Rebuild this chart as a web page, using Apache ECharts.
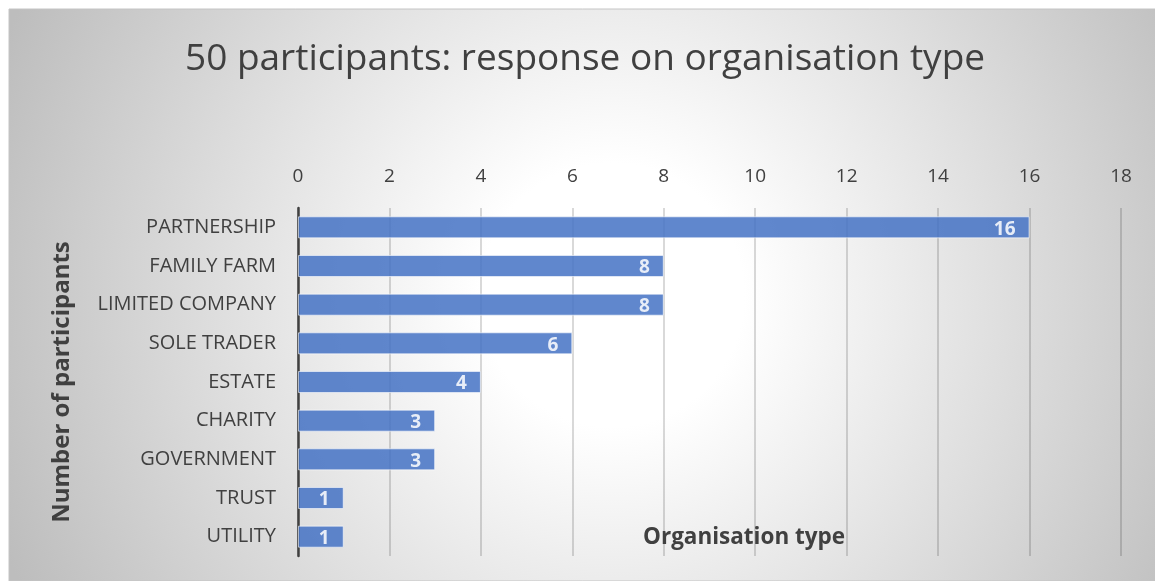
<!DOCTYPE html>
<html>
<head>
<meta charset="utf-8">
<script src="https://cdn.jsdelivr.net/npm/echarts@6/dist/echarts.min.js"></script>
<style>
  html, body { margin: 0; padding: 0; background: #ffffff; }
  #chart { width: 1155px; height: 581px; }
</style>
</head>
<body>
<div id="chart"></div>
<script>
// Organisation types reported by the 50 participants
const categories = ['PARTNERSHIP', 'FAMILY FARM', 'LIMITED COMPANY', 'SOLE TRADER', 'ESTATE', 'CHARITY', 'GOVERNMENT', 'TRUST', 'UTILITY'];
const counts = [16, 8, 8, 6, 4, 3, 3, 1, 1];
const axisTicks = [0, 2, 4, 6, 8, 10, 12, 14, 16, 18];

const titleText = '50 participants: response on organisation type';
const yName = 'Number of participants';
const xName = 'Organisation type';

const FONT = '"Open Sans", "Noto Sans", sans-serif';
const TEXT = '#404040';

const chart = echarts.init(document.getElementById('chart'), null, { renderer: 'canvas' });

chart.setOption({
  animation: false,
  backgroundColor: '#ffffff',
  textStyle: { fontFamily: FONT, color: TEXT },
  graphic: [
    {
      type: 'rect',
      z: -10,
      silent: true,
      shape: { x: 9, y: 9, width: 1160, height: 572 },
      style: {
        fill: {
          type: 'radial', x: 0.52, y: 0.5, r: 1.15,
          colorStops: [
            { offset: 0, color: '#ffffff' },
            { offset: 0.2, color: '#ffffff' },
            { offset: 1, color: '#bdbdbd' }
          ]
        },
        stroke: '#c4c4c4',
        lineWidth: 1
      }
    },
    {
      type: 'text',
      left: 643,
      top: 526,
      z: 1,
      style: {
        text: xName,
        fontFamily: FONT,
        fontSize: 22.5,
        fontWeight: 'bold',
        fill: TEXT
      }
    }
  ],
  title: {
    text: titleText,
    left: 180,
    top: 36,
    textStyle: { fontFamily: FONT, fontSize: 37, fontWeight: 'normal', color: TEXT }
  },
  grid: { left: 298, right: 34, top: 208, bottom: 25, containLabel: false },
  xAxis: {
    type: 'value',
    position: 'top',
    min: axisTicks[0],
    max: axisTicks[axisTicks.length - 1],
    interval: axisTicks[1] - axisTicks[0],
    axisLine: { show: false },
    axisTick: { show: false },
    axisLabel: { fontFamily: FONT, fontSize: 19, color: TEXT, margin: 22 },
    splitLine: { show: true, lineStyle: { color: 'rgba(0,0,0,0.2)', width: 1.5 } }
  },
  yAxis: {
    type: 'category',
    data: categories,
    inverse: true,
    name: yName,
    nameLocation: 'middle',
    nameRotate: 90,
    nameGap: 224,
    nameTextStyle: { fontFamily: FONT, fontSize: 24, fontWeight: 'bold', color: TEXT },
    axisLine: { show: true, lineStyle: { color: '#404040', width: 2.5 } },
    axisTick: { show: false },
    axisLabel: { fontFamily: FONT, fontSize: 20, color: TEXT, margin: 22 },
    splitLine: { show: false }
  },
  series: [
    {
      type: 'bar',
      data: counts,
      barWidth: '57%',
      itemStyle: {
        color: '#4472c4',
        opacity: 0.85,
        borderColor: 'rgba(255,255,255,0.7)',
        borderWidth: 1
      },
      label: {
        show: true,
        position: 'insideRight',
        distance: 14,
        offset: [0, 2],
        fontFamily: FONT,
        fontSize: 19,
        fontWeight: 'bold',
        color: '#ffffff'
      }
    }
  ]
});
</script>
</body>
</html>
